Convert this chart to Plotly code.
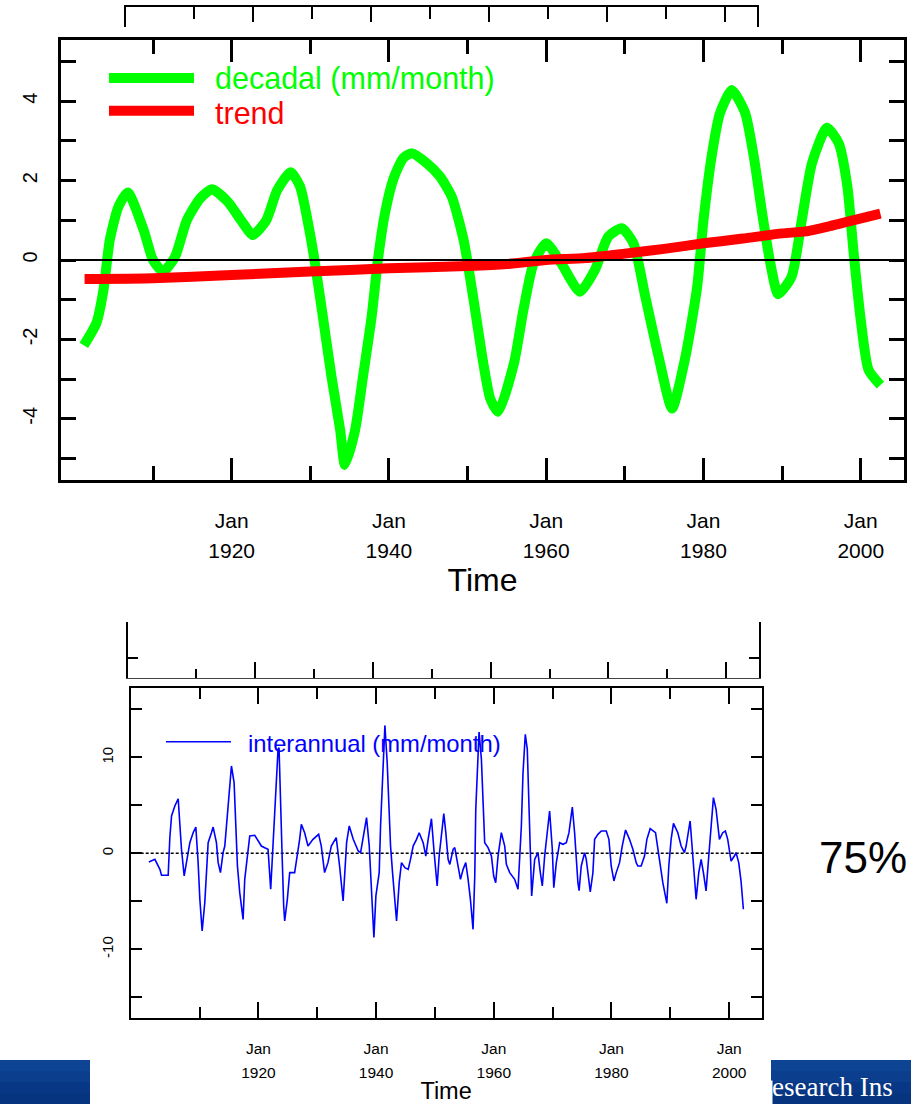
import plotly.graph_objects as go

W, H = 911, 1104


def px(x):
    return x / W


def py(y):
    return 1 - y / H


# ---------------- data ----------------
decadal_year = [1901.2, 1902.8, 1903.7, 1904.5, 1905.6, 1906.8, 1908.8, 1910.0, 1911.3, 1912.8,
                1914.3, 1916.0, 1917.5, 1919.5, 1921.2, 1922.7, 1924.4, 1925.8, 1927.5, 1928.7,
                1929.8, 1930.6, 1931.6, 1932.7, 1933.8, 1934.4, 1935.7, 1936.7, 1937.8, 1938.6,
                1939.5, 1940.6, 1941.8, 1942.9, 1944.8, 1946.5, 1948.0, 1949.5, 1950.7, 1952.0,
                1952.9, 1953.9, 1955.9, 1957.1, 1958.4, 1960.0, 1961.9, 1964.3, 1966.2, 1967.9,
                1969.6, 1971.1, 1972.6, 1974.3, 1976.0, 1977.7, 1979.2, 1980.0, 1981.1, 1982.1,
                1983.6, 1985.3, 1986.4, 1987.4, 1988.5, 1989.5, 1991.2, 1992.5, 1993.8, 1995.7,
                1997.2, 1998.3, 1999.1, 2000.0, 2001.0, 2002.5]
decadal_value = [-2.15, -1.59, -0.76, 0.50, 1.34, 1.70, 0.76, 0.0, -0.29, 0.08,
                 1.0, 1.55, 1.78, 1.47, 1.0, 0.63, 1.0, 1.76, 2.21, 1.85,
                 0.84, -0.08, -1.43, -2.94, -4.28, -5.16, -4.28, -2.94, -1.43, 0.0,
                 1.18, 2.06, 2.56, 2.69, 2.44, 2.10, 1.59, 0.50, -0.92, -2.6,
                 -3.5, -3.82, -2.6, -1.26, -0.08, 0.42, -0.08, -0.80, -0.25, 0.59,
                 0.80, 0.42, -0.92, -2.44, -3.74, -2.44, -0.67, 1.0, 2.69, 3.70,
                 4.28, 3.70, 2.60, 1.26, -0.08, -0.86, -0.42, 1.0, 2.44, 3.33,
                 2.94, 1.85, 0.17, -1.51, -2.77, -3.15]

trend_year = [1901.3, 1910, 1920, 1930, 1940, 1950, 1955, 1960, 1965, 1970, 1975, 1980,
              1985, 1990, 1993, 1996, 1999, 2002.5]
trend_value = [-0.48, -0.46, -0.38, -0.29, -0.21, -0.15, -0.10, 0.0, 0.05, 0.16, 0.28, 0.42,
               0.54, 0.67, 0.72, 0.85, 1.0, 1.17]

inter_year = [1901.39, 1902.41, 1903.26, 1903.54, 1904.67, 1904.95, 1905.24, 1905.80, 1906.37, 1906.65,
              1906.93, 1907.39, 1908.07, 1908.35, 1908.91, 1909.37, 1909.76, 1910.05, 1910.44, 1910.89,
              1911.18, 1911.46, 1912.02, 1912.31, 1912.87, 1913.16, 1913.55, 1914.00, 1914.29, 1914.85,
              1915.42, 1915.87, 1916.10, 1916.44, 1916.83, 1917.40, 1917.68, 1918.25, 1918.53, 1919.38,
              1920.51, 1921.07, 1921.64, 1922.09, 1922.77, 1923.34, 1923.51, 1923.79, 1924.02, 1924.30,
              1924.47, 1924.92, 1925.32, 1926.16, 1926.62, 1927.01, 1927.30, 1927.86, 1928.43, 1929.28,
              1930.24, 1930.69, 1931.25, 1931.82, 1932.39, 1933.23, 1933.80, 1934.40, 1934.99, 1935.44,
              1936.12, 1936.97, 1937.37, 1937.93, 1938.38, 1938.84, 1939.23, 1939.52, 1939.63, 1939.97,
              1940.53, 1940.76, 1941.10, 1941.50, 1941.89, 1942.23, 1942.46, 1942.80, 1943.19, 1943.48,
              1943.93, 1944.32, 1944.89, 1945.46, 1945.85, 1946.30, 1946.87, 1947.32, 1948.00, 1948.45,
              1948.85, 1949.41, 1949.87, 1950.38, 1950.72, 1951.11, 1951.51, 1951.85, 1952.24, 1952.53,
              1953.09, 1953.37, 1953.77, 1954.34, 1954.79, 1955.24, 1955.64, 1956.03, 1956.48, 1956.77,
              1956.94, 1957.33, 1957.50, 1957.90, 1958.18, 1958.46, 1959.03, 1959.60, 1959.99, 1960.33,
              1960.73, 1961.29, 1961.86, 1962.14, 1962.71, 1963.55, 1964.12, 1964.69, 1964.97, 1965.36,
              1965.70, 1965.99, 1966.21, 1966.44, 1966.95, 1967.51, 1967.91, 1968.25, 1968.65, 1969.21,
              1969.49, 1969.95, 1970.20, 1970.63, 1971.20, 1971.76, 1972.33, 1972.78, 1973.35, 1973.74,
              1974.02, 1974.30, 1974.50, 1974.87, 1975.44, 1975.72, 1976.00, 1976.40, 1976.85, 1977.14,
              1977.70, 1978.27, 1979.12, 1979.57, 1979.96, 1980.42, 1980.81, 1981.38, 1981.83, 1982.40,
              1983.07, 1983.64, 1984.21, 1984.49, 1985.05, 1985.62, 1986.02, 1986.58, 1987.49, 1987.88,
              1988.33, 1988.73, 1989.41, 1989.75, 1990.14, 1990.54, 1991.28, 1991.84, 1992.41, 1992.69,
              1993.37, 1993.82, 1994.39, 1994.84, 1995.24, 1995.63, 1996.08, 1996.54, 1996.93, 1997.33,
              1997.78, 1998.35, 1998.91, 1999.36, 1999.76, 2000.33, 2000.89, 2001.17, 2001.63, 2002.02,
              2002.42]
inter_value = [-0.90, -0.63, -1.67, -2.29, -2.29, 1.63, 3.89, 4.93, 5.69, 3.19,
               0.42, -2.36, 0.42, 1.11, 2.15, 2.74, -0.97, -4.79, -8.09, -5.14,
               -2.01, 1.11, 2.15, 2.74, 1.11, -0.97, -2.01, 0.07, 0.76, 4.58,
               9.10, 7.36, 3.19, -1.32, -4.10, -6.88, -2.71, 0.42, 1.81, 1.88,
               0.76, 0.59, 0.42, -3.75, 4.58, 10.83, 11.0, 5.97, 0.07, -5.49,
               -7.05, -4.79, -2.01, -2.01, -0.28, 1.46, 3.02, 2.15, 0.76, 1.46,
               1.98, 0.76, -2.01, -0.97, 0.76, 1.63, -1.32, -4.97, 1.11, 2.85,
               1.46, 0.24, 0.07, 2.15, 3.72, 0.76, -3.75, -7.92, -8.78, -4.44,
               -2.01, 2.85, 8.06, 13.33, 9.44, 4.93, 0.76, -2.01, -4.79, -7.05,
               -3.06, -0.97, -1.49, -1.67, -0.63, 0.76, 1.46, 2.15, 1.11, -0.28,
               1.46, 3.61, 0.07, -3.40, -0.28, 2.15, 4.13, 2.15, -0.63, -1.15,
               0.42, 0.59, -0.63, -2.71, -1.67, -0.97, -2.71, -4.79, -7.92, -2.36,
               4.58, 9.44, 12.64, 9.79, 5.28, 1.11, 0.59, -0.28, -2.36, -3.06,
               -0.28, 2.15, 0.76, -1.15, -2.01, -2.71, -3.75, 2.85, 8.40, 12.40,
               10.83, 4.93, -0.97, -4.44, -0.63, 0.07, -2.01, -3.40, -0.28, 3.19,
               4.41, 0.42, -3.58, -0.97, 1.11, 0.94, 1.11, 2.15, 4.83, 2.15,
               -0.63, -3.06, -3.90, -1.32, 0.07, -0.63, -2.01, -4.03, -2.01, 1.46,
               1.98, 2.33, 2.33, 1.46, -1.32, -2.88, -2.01, -0.97, 0.76, 2.43,
               1.46, 0.42, -0.97, -1.32, -1.32, -0.28, 1.46, 2.57, 2.15, 0.42,
               -1.67, -3.06, -5.21, -1.32, 1.46, 3.13, 2.15, 0.76, 0.07, 0.76,
               3.37, 0.07, -4.79, -2.01, -0.63, -2.01, -3.92, -0.28, 3.19, 5.80,
               4.58, 1.46, 2.15, 2.33, 1.46, -0.80, -0.28, 0.07, -0.97, -2.88,
               -5.83]

label_years = [1920, 1940, 1960, 1980, 2000]
label_months = ["Jan"] * len(label_years)
label_year_text = [str(y) for y in label_years]
minor_years = [1910, 1930, 1950, 1970, 1990]

decadal_ticks = [-4, -2, 0, 2, 4]
interannual_ticks = [-10, 0, 10]

X_RANGE = [1898.3, 2005.5]
FONT = "Liberation Sans, Arial, Helvetica, sans-serif"

fig = go.Figure()

# ---- decadal panel ----
fig.add_trace(go.Scatter(x=decadal_year, y=decadal_value, mode="lines",
                         line=dict(color="#00ff00", width=10, shape="spline", smoothing=0.6),
                         xaxis="x", yaxis="y", showlegend=False, hoverinfo="skip"))
fig.add_trace(go.Scatter(x=trend_year, y=trend_value, mode="lines",
                         line=dict(color="#ff0000", width=10, shape="spline", smoothing=0.6),
                         xaxis="x", yaxis="y", showlegend=False, hoverinfo="skip"))

# ---- interannual panel ----
fig.add_trace(go.Scatter(x=inter_year, y=inter_value, mode="lines",
                         line=dict(color="#0000ff", width=1.6),
                         xaxis="x2", yaxis="y2", showlegend=False, hoverinfo="skip"))

# empty traces so the year rows and the partial frames of neighbouring panels get drawn
for xa, ya in (("x3", "y"), ("x4", "y2"), ("x5", "y5"), ("x6", "y6")):
    fig.add_trace(go.Scatter(x=[], y=[], xaxis=xa, yaxis=ya, showlegend=False))


def frame_x(domain, lw, major_len, minor_len, size, standoff):
    return dict(domain=domain, range=X_RANGE, showline=True, linewidth=lw, linecolor="black",
                mirror="ticks", ticks="inside", ticklen=major_len, tickwidth=lw, tickcolor="black",
                tickmode="array", tickvals=label_years, ticktext=label_months,
                tickfont=dict(family=FONT, size=size, color="black"), ticklabelstandoff=standoff,
                minor=dict(tickmode="array", tickvals=minor_years, ticks="inside",
                           ticklen=minor_len, tickwidth=lw, tickcolor="black"),
                showgrid=False, zeroline=False, fixedrange=True)


def year_row(over, size, standoff, title_size, title_standoff):
    return dict(overlaying=over, range=X_RANGE, showline=False, ticks="",
                tickmode="array", tickvals=label_years, ticktext=label_year_text,
                tickfont=dict(family=FONT, size=size, color="black"), ticklabelstandoff=standoff,
                title=dict(text="Time", font=dict(family=FONT, size=title_size, color="black"),
                           standoff=title_standoff),
                showgrid=False, zeroline=False, fixedrange=True)


def edge_x(domain, rng, side, line_w, line_c, major_len, minor_len):
    return dict(domain=domain, side=side, range=rng, showline=True, linewidth=line_w,
                linecolor=line_c, ticks="inside", ticklen=major_len, tickwidth=2,
                tickcolor="black", tickmode="array", tickvals=label_years,
                showticklabels=False,
                minor=dict(tickmode="array", tickvals=minor_years, ticks="inside",
                           ticklen=minor_len, tickwidth=2, tickcolor="black"),
                showgrid=False, zeroline=False, fixedrange=True)


layout = dict(
    width=W, height=H, margin=dict(l=0, r=0, t=0, b=0),
    paper_bgcolor="white", plot_bgcolor="white", showlegend=False,
    xaxis=frame_x([px(61), px(904)], 2.5, 22, 14, 21, 20),
    yaxis=dict(domain=[py(480), py(40)], range=[-5.54, 5.54], showline=True, linewidth=2.5,
               linecolor="black", mirror="ticks", ticks="inside", ticklen=15, tickwidth=2.5,
               tickcolor="black", tickmode="array", tickvals=decadal_ticks,
               ticktext=[str(v) for v in decadal_ticks], tickangle=-90,
               tickfont=dict(family=FONT, size=20, color="black"), ticklabelstandoff=13,
               minor=dict(dtick=1, tick0=0, ticks="inside", ticklen=15, tickwidth=2.5,
                          tickcolor="black"),
               showgrid=False, zeroline=False, fixedrange=True),
    xaxis3=year_row("x", 21, 56, 32, 7),
    xaxis2=frame_x([px(130.7), px(761.5)], 2, 16, 11, 15.5, 15),
    yaxis2=dict(domain=[py(1018), py(687.7)], range=[-17.16, 17.26], showline=True, linewidth=2,
                linecolor="black", mirror="ticks", ticks="inside", ticklen=11, tickwidth=2,
                tickcolor="black", tickmode="array", tickvals=interannual_ticks,
                ticktext=[str(v) for v in interannual_ticks], tickangle=-90,
                tickfont=dict(family=FONT, size=15, color="black"), ticklabelstandoff=10,
                minor=dict(dtick=5, tick0=0, ticks="inside", ticklen=11, tickwidth=2,
                           tickcolor="black"),
                showgrid=False, zeroline=False, fixedrange=True),
    xaxis4=year_row("x2", 15.5, 43, 23.5, 7),
    # upper frame edge of the panel stacked above
    xaxis5=edge_x([px(126), px(757)], [1898.48, 2005.36], "top", 2, "black", 15, 12),
    yaxis5=dict(domain=[py(27), py(6.7)], range=[15.13, 17.25], showline=True,
                mirror=True, linewidth=2, linecolor="black", ticks="", showticklabels=False,
                showgrid=False, zeroline=False, fixedrange=True),
    # lower frame edge of the panel above the interannual plot
    xaxis6=edge_x([px(128), px(759)], [1898.46, 2005.55], "bottom", 1.2, "#444444", 16, 9),
    yaxis6=dict(domain=[py(678.3), py(622)], range=[-17.15, -11.28],
                showline=True, mirror="ticks", linewidth=2, linecolor="black", ticks="inside",
                ticklen=10, tickwidth=2, tickcolor="black", dtick=5, tick0=0,
                showticklabels=False, showgrid=False, zeroline=False, fixedrange=True),
)
for xa, ya in (("xaxis", "y"), ("xaxis2", "y2"), ("xaxis3", "y"), ("xaxis4", "y2"),
               ("xaxis5", "y5"), ("xaxis6", "y6")):
    layout[xa]["anchor"] = ya
for ya, xa in (("yaxis", "x"), ("yaxis2", "x2"), ("yaxis5", "x5"), ("yaxis6", "x6")):
    layout[ya]["anchor"] = xa
fig.update_layout(**layout)

shapes = [
    # zero reference lines
    dict(type="line", xref="x domain", yref="y", x0=0, x1=1, y0=0, y1=0,
         line=dict(color="black", width=2), layer="above"),
    dict(type="line", xref="x2 domain", yref="y2", x0=0, x1=1, y0=0, y1=0,
         line=dict(color="black", width=1.5, dash="3px,2px"), layer="below"),
    # legend keys
    dict(type="line", xref="paper", yref="paper", x0=px(109), x1=px(194), y0=py(78), y1=py(78),
         line=dict(color="#00ff00", width=10)),
    dict(type="line", xref="paper", yref="paper", x0=px(109), x1=px(194), y0=py(110.7),
         y1=py(110.7), line=dict(color="#ff0000", width=10)),
    dict(type="line", xref="paper", yref="paper", x0=px(166), x1=px(231), y0=py(741.7),
         y1=py(741.7), line=dict(color="#0000ff", width=1.6)),
]
# slide banners
band_colors = ["#0e4494", "#0b3e8c", "#083885", "#06347e"]
for x0, x1 in ((0, 90), (771, 911)):
    for i, c in enumerate(band_colors):
        shapes.append(dict(type="rect", xref="paper", yref="paper", x0=px(x0), x1=px(x1),
                           y0=py(1060 + 11 * (i + 1)), y1=py(1060 + 11 * i),
                           fillcolor=c, line=dict(width=0), layer="below"))
fig.update_layout(shapes=shapes)

annotations = [
    dict(text="decadal (mm/month)", x=px(213), y=py(78.5), xref="paper", yref="paper",
         xanchor="left", yanchor="middle", showarrow=False,
         font=dict(family=FONT, size=30.5, color="#00ff00")),
    dict(text="trend", x=px(213), y=py(113), xref="paper", yref="paper",
         xanchor="left", yanchor="middle", showarrow=False,
         font=dict(family=FONT, size=30.5, color="#ff0000")),
    dict(text="interannual (mm/month)", x=px(246), y=py(743), xref="paper", yref="paper",
         xanchor="left", yanchor="middle", showarrow=False,
         font=dict(family=FONT, size=23.8, color="#0000ff")),
    dict(text="75%", x=px(817), y=py(857), xref="paper", yref="paper",
         xanchor="left", yanchor="middle", showarrow=False,
         font=dict(family=FONT, size=44, color="black")),
    dict(text="Research Ins", x=px(752), y=py(1087), xref="paper", yref="paper",
         xanchor="left", yanchor="middle", showarrow=False,
         font=dict(family="Liberation Serif, Times New Roman, serif", size=27, color="white")),
    # white edge of the chart picture overlapping the banner text
    dict(text=" ", x=px(745), y=py(1080), xref="paper", yref="paper", xanchor="left",
         yanchor="top", showarrow=False, width=26, height=24, bgcolor="white", borderpad=0,
         font=dict(size=10)),
]
fig.update_layout(annotations=annotations)

fig.write_html("out.html")
